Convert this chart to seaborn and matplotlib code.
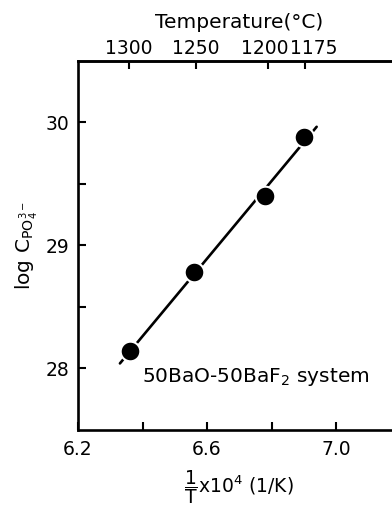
import numpy as np
import pandas as pd
import matplotlib
matplotlib.use("Agg")
import matplotlib.pyplot as plt
import matplotlib.transforms as mtransforms
import seaborn as sns

# Data
inv_T = [6.36, 6.56, 6.78, 6.90]          # 1/T x 10^4 (1/K)
log_C = [28.14, 28.78, 29.40, 29.88]      # log C_PO4^3-
fit_range = [6.33, 6.94]                  # extent of the fitted line
top_temps = [1300, 1250, 1200, 1175]      # temperature ticks (°C)
x_labels = [6.2, 6.6, 7.0]
y_labels = [28, 29, 30]

sns.set_theme(style="ticks")
plt.rcParams["font.family"] = ["DejaVu Sans"]
plt.rcParams["mathtext.default"] = "regular"
plt.rcParams["text.color"] = "black"
plt.rcParams["axes.labelcolor"] = "black"
plt.rcParams["xtick.color"] = "black"
plt.rcParams["ytick.color"] = "black"

fig = plt.figure(figsize=(3.92, 5.07), dpi=100)
ax = fig.add_axes([0.199, 0.152, 0.8227, 0.7278])

df = pd.DataFrame({"x": inv_T, "y": log_C})
coef = np.polyfit(inv_T, log_C, 1)
fit_df = pd.DataFrame({"x": fit_range, "y": np.polyval(coef, fit_range)})

sns.lineplot(data=fit_df, x="x", y="y", ax=ax, color="black", lw=1.9, zorder=2)
sns.scatterplot(data=df, x="x", y="y", ax=ax, color="black", s=200,
                edgecolor="white", linewidth=1.5, zorder=3)

ax.set_xlim(6.2, 7.2)
ax.set_ylim(27.5, 30.5)
ax.set_xticks(x_labels)
ax.set_xticklabels([f"{v:.1f}" for v in x_labels])
ax.set_xticks([6.4, 6.8], minor=True)
ax.set_yticks(y_labels)
ax.set_yticklabels([str(v) for v in y_labels])
ax.set_yticks([28.5, 29.5], minor=True)

ax.tick_params(axis="both", which="both", direction="in", length=6, width=1.5,
               labelsize=13.5, color="black", labelcolor="black")
ax.tick_params(axis="x", pad=7)
ax.tick_params(axis="y", pad=6)
for s in ["left", "bottom", "top"]:
    ax.spines[s].set_linewidth(1.9)
    ax.spines[s].set_color("black")
ax.spines["right"].set_visible(False)

ax.set_xlabel(r"$\dfrac{1}{T}$x10$^{4}$ (1/K)", fontsize=13.5, labelpad=7)
ax.set_ylabel(r"log C$_{PO_4^{3-}}$", fontsize=14.5, labelpad=4)

def fwd(x):
    x = np.asarray(x, dtype=float)
    with np.errstate(divide="ignore"):
        return 1e4 / x - 273.15

def inv(t):
    t = np.asarray(t, dtype=float)
    with np.errstate(divide="ignore"):
        return 1e4 / (t + 273.15)

sec = ax.secondary_xaxis("top", functions=(fwd, inv))
sec.set_xticks(top_temps)
sec.set_xticklabels([str(t) for t in top_temps])
sec.tick_params(direction="in", length=6, width=1.5, labelsize=13.5, pad=2,
                color="black", labelcolor="black")
sec.spines["top"].set_linewidth(1.9)
sec.set_xlabel("Temperature(°C)", fontsize=14.5, labelpad=8, color="black")
shifts = {"1200": -3, "1175": 8}
for lbl in sec.get_xticklabels():
    dx = shifts.get(lbl.get_text(), 0)
    if dx:
        lbl.set_transform(lbl.get_transform() +
                          mtransforms.ScaledTranslation(dx / 100, 0, fig.dpi_scale_trans))

ax.text(6.75, 27.93, r"50BaO-50BaF$_2$ system", fontsize=14.5, ha="center", va="center",
        color="black")

fig.savefig("out.png", dpi=100)
